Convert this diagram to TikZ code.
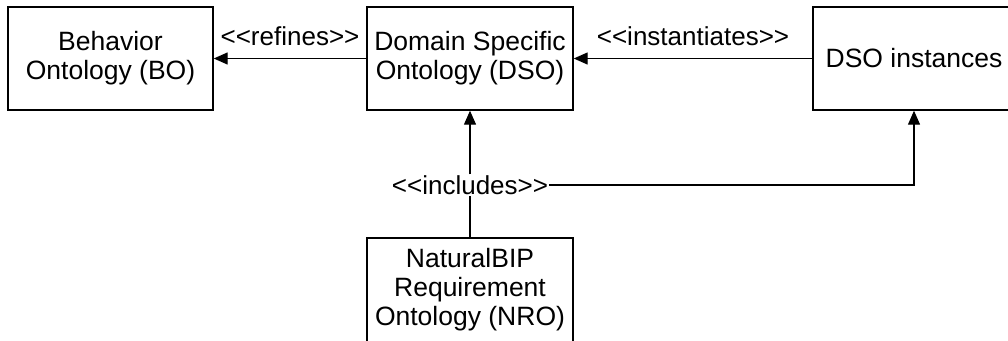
\documentclass[tikz,border=0pt]{standalone}
\usepackage{fontspec}
\setmainfont{Liberation Sans}
\usetikzlibrary{arrows.meta}
\newcommand{\lguil}{\textless\kern0pt\textless}
\newcommand{\rguil}{\textgreater\kern0pt\textgreater}
\begin{document}
\begin{tikzpicture}[x=1pt,y=-1pt,
  box/.style={draw, line width=1.4pt, inner sep=0pt, align=center,
    font=\fontsize{26.5}{29}\selectfont},
  lbl/.style={inner sep=1pt, font=\fontsize{26}{29}\selectfont},
  conn/.style={line width=1.3pt},
  arr/.style={conn, -{Triangle[length=14pt,width=12pt]}}]
\useasboundingbox (0,0) rectangle (1008,340);
\node[box, minimum width=205pt, minimum height=103pt] (bo) at (110.5,58.5) {Behavior\\Ontology (BO)};
\node[box, minimum width=206pt, minimum height=103pt] (dso) at (470,58.5) {Domain Specific\\Ontology (DSO)};
\node[box, minimum width=202pt, minimum height=103pt] (inst) at (914,58.5) {DSO instances};
\node[box, minimum width=206pt, minimum height=104pt] (nro) at (470,290) {NaturalBIP\\Requirement\\Ontology (NRO)};
\node[lbl] (inc) at (470,185) {\lguil includes\rguil};
\draw[arr] (dso.west) -- node[lbl, above=11pt] (ref) {\lguil refines\rguil} (bo.east);
\draw[arr] (inst.west) -- node[lbl, above=11pt] (ins) {\lguil instantiates\rguil} (dso.east);
\draw[conn] (nro.north) -- (inc.south);
\draw[arr] (inc.north) -- (dso.south);
\draw[arr] (inc.east) -| (inst.south);
\end{tikzpicture}
\end{document}
